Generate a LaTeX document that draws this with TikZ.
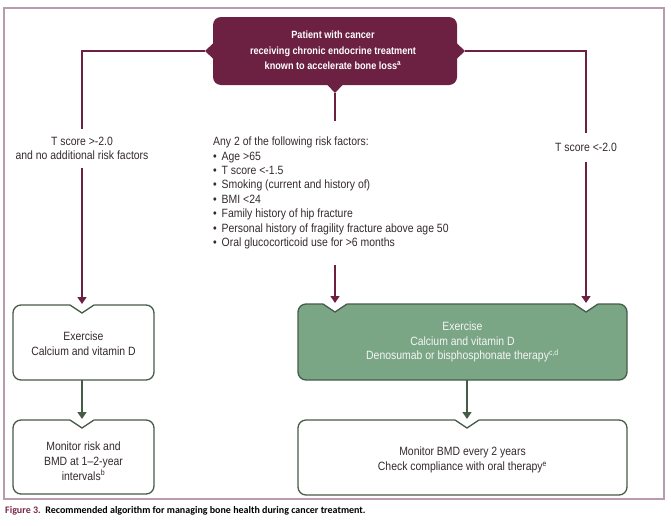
\documentclass[tikz,border=0pt]{standalone}
\usepackage{fontspec}
\setmainfont[FakeStretch=0.87]{Liberation Sans}
\newfontfamily\capfont{Carlito}
\usetikzlibrary{arrows.meta}
\definecolor{maroon}{RGB}{108,32,66}
\definecolor{framec}{RGB}{184,156,174}
\definecolor{boxgreen}{RGB}{70,92,72}
\definecolor{fillgreen}{RGB}{122,166,134}
\definecolor{txtgray}{RGB}{52,42,47}
\definecolor{capmaroon}{RGB}{120,40,75}
\begin{document}
\begin{tikzpicture}[x=1pt,y=-1pt,
  conn/.style={draw=maroon, line width=1.4pt},
  marr/.style={conn, -{Triangle[width=9pt,length=7pt]}},
  garr/.style={draw=boxgreen, line width=1.4pt, -{Triangle[width=9pt,length=7pt]}},
  lbl/.style={text=txtgray, align=center, inner xsep=2pt, font=\fontsize{12}{14.4}\selectfont},
  boxtext/.style={align=center, font=\fontsize{12}{14.8}\selectfont},
  wbox/.style={draw=boxgreen, line width=1.3pt, fill=white, rounded corners=8pt},
  gbox/.style={draw=boxgreen, line width=1.3pt, fill=fillgreen, rounded corners=8pt},
  notchline/.style={draw=boxgreen, line width=1.3pt, line join=miter}
]
\useasboundingbox (0,0) rectangle (671,525);
% frame
\draw[framec, line width=1.3pt] (4,8) rectangle (664,499);

% top box
\fill[maroon, rounded corners=8pt] (213,17) rectangle (457,85);
\fill[maroon] (456.5,43) -- (465,51) -- (456.5,59) -- cycle;
\fill[maroon] (213.5,43) -- (205,51) -- (213.5,59) -- cycle;
\fill[maroon] (327,84.5) -- (335,93) -- (343,84.5) -- cycle;
\node[boxtext, text=white, font=\bfseries\fontsize{10.5}{15.5}\selectfont] (top) at (333,50.5)
  {Patient with cancer\\receiving chronic endocrine treatment\\known to accelerate bone loss\textsuperscript{a}};
\coordinate (tl) at (205,51);
\coordinate (tr) at (465,51);
\coordinate (tb) at (335,93);

% labels
\node[lbl, inner ysep=8pt] (llab) at (82,148.5) {T score >-2.0\\and no additional risk factors};
\node[lbl, inner ysep=10.5pt] (rlab) at (586,147.5) {T score <-2.0};
\node[lbl, align=left, anchor=west, inner ysep=16pt, inner xsep=0pt] (risk) at (213,193)
  {Any 2 of the following risk factors:\\
   \makebox[8.5pt][l]{\textbullet}Age >65\\
   \makebox[8.5pt][l]{\textbullet}T score <-1.5\\
   \makebox[8.5pt][l]{\textbullet}Smoking (current and history of)\\
   \makebox[8.5pt][l]{\textbullet}BMI <24\\
   \makebox[8.5pt][l]{\textbullet}Family history of hip fracture\\
   \makebox[8.5pt][l]{\textbullet}Personal history of fragility fracture above age 50\\
   \makebox[8.5pt][l]{\textbullet}Oral glucocorticoid use for >6 months};

% left box 1
\draw[wbox] (13,305) rectangle (154,380);
\fill[white] (70,303) -- (94,303) -- (94,305) -- (82,313) -- (70,305) -- cycle;
\draw[notchline] (70,305) -- (82,313) -- (94,305);
\coordinate (lb1n) at (82,304);
\node[boxtext, text=txtgray] (lb1) at (83.5,344) {Exercise\\Calcium and vitamin D};

% left box 2
\draw[wbox] (13,420) rectangle (154,494);
\fill[white] (70,418) -- (94,418) -- (94,420) -- (82,428) -- (70,420) -- cycle;
\draw[notchline] (70,420) -- (82,428) -- (94,420);
\coordinate (lb2n) at (82,419);
\node[boxtext, text=txtgray] (lb2) at (83.5,461) {Monitor risk and\\BMD at 1--2-year\\intervals\textsuperscript{b}};

% right box 1 (green)
\draw[gbox] (298,304) rectangle (627,380);
\fill[white] (323,302) -- (347,302) -- (347,304) -- (335,312) -- (323,304) -- cycle;
\draw[notchline] (323,304) -- (335,312) -- (347,304);
\fill[white] (574,302) -- (598,302) -- (598,304) -- (586,312) -- (574,304) -- cycle;
\draw[notchline] (574,304) -- (586,312) -- (598,304);
\coordinate (rb1a) at (335,303);
\coordinate (rb1b) at (586,303);
\node[boxtext, text=white!96!black] (rb1) at (462.5,342)
  {Exercise\\Calcium and vitamin D\\Denosumab or bisphosphonate therapy\textsuperscript{c,d}};

% right box 2
\draw[wbox] (298,420) rectangle (627,495);
\fill[white] (455,418) -- (479,418) -- (479,420) -- (467,428) -- (455,420) -- cycle;
\draw[notchline] (455,420) -- (467,428) -- (479,420);
\coordinate (rb2n) at (467,419);
\node[boxtext, text=txtgray] (rb2) at (462.5,460)
  {Monitor BMD every 2 years\\Check compliance with oral therapy\textsuperscript{e}};

% connectors
\draw[conn] (tl) -| (llab.north);
\draw[marr] (llab.south) -- (lb1n);
\draw[conn] (tr) -| (rlab.north);
\draw[marr] (rlab.south) -- (rb1b);
\draw[conn] (tb) -- (tb |- risk.north);
\draw[marr] (tb |- risk.south) -- (rb1a);
\draw[garr] (82,380) -- (lb2n);
\draw[garr] (467,380) -- (rb2n);

% caption
\node[anchor=west, inner sep=0pt, font=\capfont\bfseries\fontsize{10}{12}\selectfont] (cap) at (5,511)
  {\textcolor{capmaroon}{Figure 3.}\ \ Recommended algorithm for managing bone health during cancer treatment.};
\end{tikzpicture}
\end{document}
